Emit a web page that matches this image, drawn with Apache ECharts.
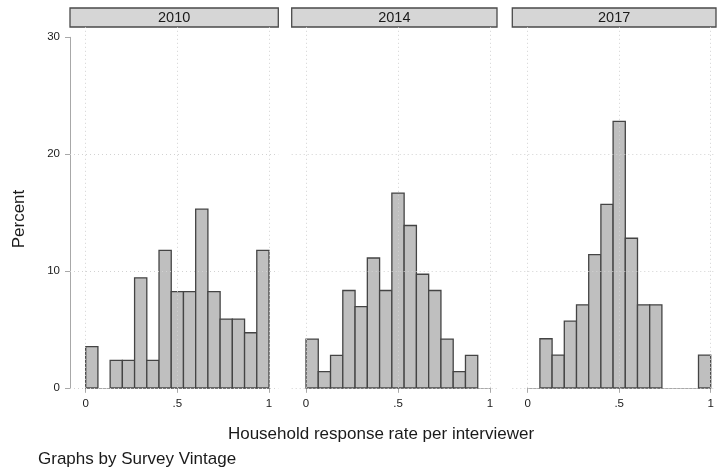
<!DOCTYPE html>
<html>
<head>
<meta charset="utf-8">
<script src="https://cdn.jsdelivr.net/npm/echarts@6/dist/echarts.min.js"></script>
<style>
  html, body { margin: 0; padding: 0; background: #fff; }
  #chart { width: 718px; height: 468px; }
</style>
</head>
<body>
<div id="chart"></div>
<script>
// Survey vintages shown as panels
const vintages = ['2010', '2014', '2017'];

// Histogram bins: 15 equal-width bins on [0, 1]
const binCount = 15;

// Percent of interviewers in each bin, per vintage
const pct2010 = [3.53, 0, 2.35, 2.35, 9.41, 2.35, 11.76, 8.24, 8.24, 15.29, 8.24, 5.88, 5.88, 4.71, 11.76];
const pct2014 = [4.17, 1.39, 2.78, 8.33, 6.94, 11.11, 8.33, 16.67, 13.89, 9.72, 8.33, 4.17, 1.39, 2.78, 0];
const pct2017 = [0, 4.2, 2.8, 5.7, 7.1, 11.4, 15.7, 22.8, 12.8, 7.1, 7.1, 0, 0, 0, 2.8];

// Axis ticks
const xTicks = [0, 0.5, 1];
const xTickLabels = { 0: '0', 0.5: '.5', 1: '1' };
const yGridValues = [0, 10, 20];
const yMax = 30;

const seriesPct = [pct2010, pct2014, pct2017];

// Panel layout (pixels): plot region and the 0..1 data span inside it
const panels = [
  { regionL: 70,    regionR: 278.3, dataL: 85.7,  dataR: 269   },
  { regionL: 291.7, regionR: 497,   dataL: 306,   dataR: 490   },
  { regionL: 512.3, regionR: 716,   dataL: 527.7, dataR: 710.7 }
];
const regionTop = 27;
const dataTop = 37.3;
const dataBottom = 387.8;
const stripTop = 8;
const stripH = 19;

const FONT = '"Liberation Sans", Arial, sans-serif';
const gridColor = '#d2d2d2';
const axisColor = '#a8a8a8';

const grids = [], xAxes = [], yAxes = [], series = [], graphics = [];

panels.forEach((p, k) => {
  const dataW = p.dataR - p.dataL;
  const pxPerX = dataW;
  const pxPerY = (dataBottom - dataTop) / yMax;

  // Background grid: full plot region, carries the dotted gridlines
  grids.push({ left: p.regionL, top: regionTop, width: p.regionR - p.regionL, height: dataBottom - regionTop, containLabel: false });
  const bg = grids.length - 1;
  xAxes.push({
    gridIndex: bg, type: 'value', show: false,
    min: -(p.dataL - p.regionL) / pxPerX,
    max: 1 + (p.regionR - p.dataR) / pxPerX
  });
  yAxes.push({
    gridIndex: bg, type: 'value', show: false,
    min: 0, max: (dataBottom - regionTop) / pxPerY
  });
  series.push({
    type: 'line', xAxisIndex: bg, yAxisIndex: bg, data: [], silent: true, z: 1,
    markLine: {
      silent: true, symbol: 'none', animation: false,
      label: { show: false },
      lineStyle: { color: gridColor, type: [1, 3], width: 1 },
      data: xTicks.map(v => ({ xAxis: v })).concat(yGridValues.map(v => ({ yAxis: v })))
    }
  });

  // Data grid: exactly [0,1] x [0,30]
  grids.push({ left: p.dataL, top: dataTop, width: dataW, height: dataBottom - dataTop, containLabel: false });
  const dg = grids.length - 1;
  xAxes.push({
    gridIndex: dg, type: 'value', min: 0, max: 1, interval: 0.5,
    axisLine: { show: true, onZero: false, lineStyle: { color: axisColor, width: 1 } },
    axisTick: { show: true, length: 5, lineStyle: { color: axisColor } },
    splitLine: { show: false },
    axisLabel: {
      show: true, margin: 10, color: '#1a1a1a', fontFamily: FONT, fontSize: 11.5,
      formatter: v => xTickLabels[v] !== undefined ? xTickLabels[v] : ''
    }
  });
  yAxes.push({
    gridIndex: dg, type: 'value', min: 0, max: yMax, interval: 10,
    show: k === 0,
    offset: p.dataL - p.regionL,
    axisLine: { show: true, onZero: false, lineStyle: { color: axisColor, width: 1 } },
    axisTick: { show: true, length: 5, lineStyle: { color: axisColor } },
    splitLine: { show: false },
    axisLabel: { show: true, margin: 10, color: '#1a1a1a', fontFamily: FONT, fontSize: 11.5 }
  });

  // Histogram bars drawn through the axis scales
  const bins = [];
  seriesPct[k].forEach((v, i) => {
    if (v > 0) bins.push([i / binCount, (i + 1) / binCount, v]);
  });
  series.push({
    type: 'custom', xAxisIndex: dg, yAxisIndex: dg, z: 3,
    data: bins,
    renderItem: (params, api) => {
      const tl = api.coord([api.value(0), api.value(2)]);
      const br = api.coord([api.value(1), 0]);
      return {
        type: 'rect',
        shape: { x: tl[0], y: tl[1], width: br[0] - tl[0], height: br[1] - tl[1] },
        style: { fill: '#bfbfbf', stroke: '#444444', lineWidth: 1.3 }
      };
    }
  });

  // Panel strip with vintage label
  graphics.push({
    type: 'rect',
    shape: { x: p.regionL, y: stripTop, width: p.regionR - p.regionL, height: stripH },
    style: { fill: '#d6d6d6', stroke: '#4a4a4a', lineWidth: 1.3 }
  });
  graphics.push({
    type: 'text',
    x: (p.regionL + p.regionR) / 2, y: stripTop + stripH / 2 + 0.5,
    style: { text: vintages[k], fill: '#1a1a1a', font: '14.5px ' + FONT, textAlign: 'center', textVerticalAlign: 'middle' }
  });
});

// Axis titles and note
graphics.push({
  type: 'text', x: 19, y: 219, rotation: Math.PI / 2,
  style: { text: 'Percent', fill: '#1a1a1a', font: '17px ' + FONT, textAlign: 'center', textVerticalAlign: 'middle' }
});
graphics.push({
  type: 'text', x: 381, y: 434,
  style: { text: 'Household response rate per interviewer', fill: '#1a1a1a', font: '17px ' + FONT, textAlign: 'center', textVerticalAlign: 'middle' }
});
graphics.push({
  type: 'text', x: 38, y: 459,
  style: { text: 'Graphs by Survey Vintage', fill: '#1a1a1a', font: '17px ' + FONT, textAlign: 'left', textVerticalAlign: 'middle' }
});

const chart = echarts.init(document.getElementById('chart'), null, { renderer: 'canvas' });
chart.setOption({
  animation: false,
  backgroundColor: '#ffffff',
  grid: grids,
  xAxis: xAxes,
  yAxis: yAxes,
  series: series,
  graphic: graphics
});
</script>
</body>
</html>
